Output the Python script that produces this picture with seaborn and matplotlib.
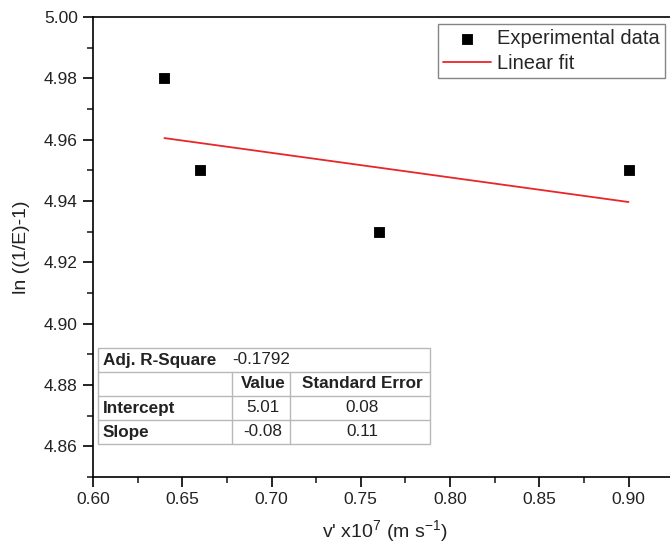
import numpy as np
import pandas as pd
import matplotlib
matplotlib.use("Agg")
import matplotlib.pyplot as plt
from matplotlib.ticker import MultipleLocator, FormatStrFormatter
import seaborn as sns

# data
velocity = [0.64, 0.66, 0.76, 0.90]
ln_values = [4.98, 4.95, 4.93, 4.95]
x_ticks = [0.60, 0.65, 0.70, 0.75, 0.80, 0.85, 0.90]
y_ticks = [4.86, 4.88, 4.90, 4.92, 4.94, 4.96, 4.98, 5.00]
table_rows = [
    ["Adj. R-Square", "-0.1792", ""],
    ["", "Value", "Standard Error"],
    ["Intercept", "5.01", "0.08"],
    ["Slope", "-0.08", "0.11"],
]

sns.set_style("ticks")
plt.rcParams['font.family'] = ['Liberation Sans', 'DejaVu Sans']
plt.rcParams['mathtext.default'] = 'regular'

df = pd.DataFrame({"v": velocity, "ln": ln_values})
slope, intercept = np.polyfit(df["v"], df["ln"], 1)
fit = pd.DataFrame({"v": [min(velocity), max(velocity)]})
fit["ln"] = intercept + slope * fit["v"]

W, H = 670, 554
fig = plt.figure(figsize=(6.7, 5.54), dpi=100)
ax_left, ax_right = 93 / W, 1.01
ax = fig.add_axes([ax_left, 1 - 477 / H, ax_right - ax_left, (477 - 17) / H])

sns.scatterplot(data=df, x="v", y="ln", marker="s", s=60, color="black",
                edgecolor="black", ax=ax, label="Experimental data", zorder=3)
sns.lineplot(data=fit, x="v", y="ln", color="#e8262a", lw=1.3, ax=ax,
             label="Linear fit")

ax.set_xlim(0.60, 0.927)
ax.set_ylim(4.85, 5.00)
ax.set_xticks(x_ticks)
ax.set_yticks(y_ticks)
ax.xaxis.set_major_formatter(FormatStrFormatter("%.2f"))
ax.yaxis.set_major_formatter(FormatStrFormatter("%.2f"))
ax.xaxis.set_minor_locator(MultipleLocator(0.025))
ax.yaxis.set_minor_locator(MultipleLocator(0.01))
ax.tick_params(which="major", direction="out", length=7, width=1.2,
               labelsize=12.5, colors="black", labelcolor="#222222", pad=4)
ax.tick_params(which="minor", direction="out", length=4, width=1.2)
for s in ["left", "bottom", "top"]:
    ax.spines[s].set_visible(True)
    ax.spines[s].set_linewidth(1.2)
    ax.spines[s].set_color("black")
ax.spines["right"].set_visible(False)
ax.tick_params(top=False, right=False)

ax.set_xlabel("v' x10$^{7}$ (m s$^{-1}$)", fontsize=14, labelpad=8, color="#222222")
ax.set_ylabel("ln ((1/E)-1)", fontsize=14, labelpad=10, color="#222222")

# legend anchored in figure pixel coordinates
leg = ax.legend(loc="upper right", bbox_to_anchor=(665 / W, 1 - 24 / H),
                bbox_transform=fig.transFigure,
                fontsize=14.5, frameon=True, fancybox=False, edgecolor="#666666",
                borderpad=0.25, handlelength=2.4, handletextpad=0.3,
                labelspacing=0.3, borderaxespad=0)
leg.get_frame().set_linewidth(1.0)

# table (figure pixel coordinates)
tx0, tx1 = 98, 430
col_edges = [98, 232, 290, 430]
ty0, ty1 = 348, 444
row_h = (ty1 - ty0) / 4
lc = "#b8b8b8"
def fx(px): return px / W
def fy(py): return 1 - py / H
fig.patches.append(plt.Rectangle((fx(tx0), fy(ty1)), fx(tx1) - fx(tx0), fy(ty0) - fy(ty1),
                                 transform=fig.transFigure, facecolor="white",
                                 edgecolor=lc, lw=1.0, zorder=5))
for i in range(1, 4):
    y = ty0 + i * row_h
    fig.add_artist(plt.Line2D([fx(tx0), fx(tx1)], [fy(y), fy(y)], color=lc, lw=1.0,
                              transform=fig.transFigure, zorder=6))
for c in col_edges[1:3]:
    fig.add_artist(plt.Line2D([fx(c), fx(c)], [fy(ty0 + row_h), fy(ty1)], color=lc, lw=1.0,
                              transform=fig.transFigure, zorder=6))
for r, row in enumerate(table_rows):
    yc = ty0 + (r + 0.5) * row_h
    for c, txt in enumerate(row):
        if not txt:
            continue
        bold = (c == 0) or (r == 1)
        if r == 0 and c == 1:
            x, ha = 232, "left"
        elif c == 0:
            x, ha = 103, "left"
        else:
            x, ha = (col_edges[c] + col_edges[c + 1]) / 2 + 2, "center"
        fig.text(fx(x), fy(yc), txt, ha=ha, va="center", fontsize=12.3,
                 fontweight="bold" if bold else "normal", color="#222222", zorder=7)

fig.savefig("out.png", dpi=100)
